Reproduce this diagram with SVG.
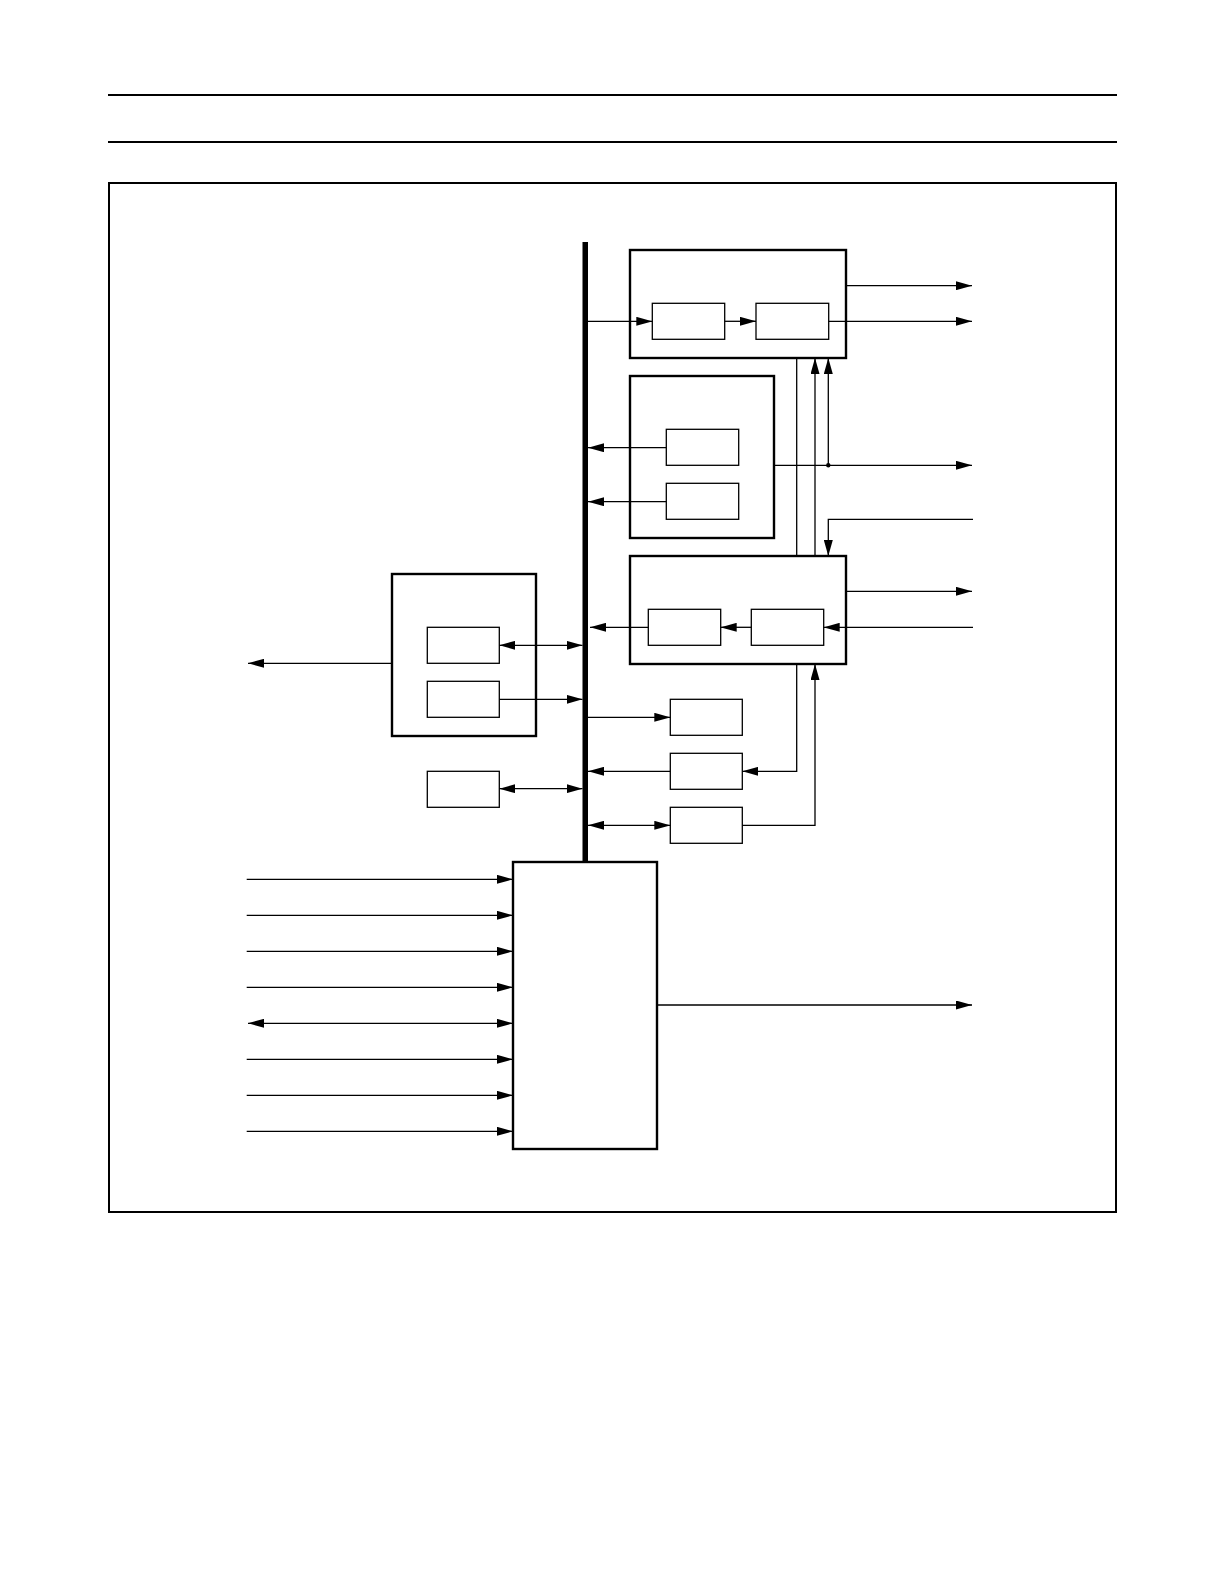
<svg xmlns="http://www.w3.org/2000/svg" width="1224" height="1582" viewBox="0 0 1224 1582">
<style>
.rule{stroke:#000;stroke-width:2;fill:none}
.outer{fill:#fff;stroke:#000;stroke-width:2.4}
.inner{fill:#fff;stroke:#000;stroke-width:1.3}
.c{fill:none;stroke:#000;stroke-width:1.3}
.a{marker-end:url(#ah)}
.b{marker-start:url(#ah);marker-end:url(#ah)}
</style>
<defs>
<marker id="ah" viewBox="0 0 16 9" markerWidth="16" markerHeight="9" refX="16" refY="4.5" markerUnits="userSpaceOnUse" orient="auto-start-reverse">
<path d="M0,0 L16,4.5 L0,9 z" fill="#000"/>
</marker>
</defs>
<rect width="1224" height="1582" fill="#fff"/>
<line class="rule" x1="108" y1="95" x2="1117" y2="95"/>
<line class="rule" x1="108" y1="142" x2="1117" y2="142"/>
<rect class="rule" x="109" y="183" width="1007" height="1029"/>

<g id="bus"><rect x="582.5" y="242" width="5.5" height="620" fill="#000"/></g>

<g id="block1">
<rect class="outer" x="630" y="250" width="216" height="108"/>
<rect id="block1a" class="inner" x="652.3" y="303.3" width="72.4" height="36"/>
<rect id="block1b" class="inner" x="756" y="303.3" width="72.7" height="36"/>
</g>
<g id="block2">
<rect class="outer" x="630" y="376" width="144" height="162"/>
<rect id="block2a" class="inner" x="666.3" y="429.3" width="72.4" height="36"/>
<rect id="block2b" class="inner" x="666.3" y="483.3" width="72.4" height="36"/>
</g>
<g id="block3">
<rect class="outer" x="630" y="556" width="216" height="108"/>
<rect id="block3a" class="inner" x="648.3" y="609.3" width="72.4" height="36"/>
<rect id="block3b" class="inner" x="751.3" y="609.3" width="72.4" height="36"/>
</g>
<g id="block4">
<rect class="outer" x="392" y="574" width="144" height="162"/>
<rect id="block4a" class="inner" x="427.3" y="627.3" width="72" height="36"/>
<rect id="block4b" class="inner" x="427.3" y="681.3" width="72" height="36"/>
</g>
<g id="block5"><rect class="inner" x="427.3" y="771.3" width="72" height="36"/></g>
<g id="block6"><rect class="inner" x="670.3" y="699.3" width="72" height="36"/></g>
<g id="block7"><rect class="inner" x="670.3" y="753.3" width="72" height="36"/></g>
<g id="block8"><rect class="inner" x="670.3" y="807.3" width="72" height="36"/></g>
<g id="block9"><rect class="outer" x="513" y="862" width="144" height="287"/></g>

<g id="connectors">
<path class="c a" d="M588,321.3 H652.3"/>
<path class="c a" d="M724.7,321.3 H756"/>
<path class="c a" d="M846,285.7 H972"/>
<path class="c a" d="M828.7,321.3 H972"/>
<path class="c a" d="M666.3,447.7 H588"/>
<path class="c a" d="M666.3,501.7 H588"/>
<path class="c a" d="M774,465.3 H972"/>
<circle cx="828.3" cy="465.3" r="2.2" fill="#000"/>
<path class="c a" d="M828.3,465.3 V358"/>
<path class="c a" d="M815,556 V358"/>
<path class="c" d="M796.7,358 V556"/>
<path class="c a" d="M973,519.3 H828.3 V556"/>
<path class="c a" d="M846,591.3 H972"/>
<path class="c a" d="M973,627.3 H823.7"/>
<path class="c a" d="M751.3,627.3 H720.7"/>
<path class="c a" d="M648.3,627.3 H590"/>
<path class="c b" d="M499.3,645.3 H582.5"/>
<path class="c a" d="M499.3,699.3 H582.5"/>
<path class="c a" d="M392,663.3 H248"/>
<path class="c a" d="M588,717.3 H670.3"/>
<path class="c a" d="M670.3,771.3 H588"/>
<path class="c a" d="M796.7,664 V771.3 H742.3"/>
<path class="c b" d="M499.3,788.7 H582.5"/>
<path class="c b" d="M588,825.3 H670.3"/>
<path class="c a" d="M742.3,825.3 H815 V664"/>
<path class="c a" d="M246.7,879.3 H513"/>
<path class="c a" d="M246.7,915.3 H513"/>
<path class="c a" d="M246.7,951.3 H513"/>
<path class="c a" d="M246.7,987.3 H513"/>
<path class="c b" d="M248,1023.3 H513"/>
<path class="c a" d="M246.7,1059.3 H513"/>
<path class="c a" d="M246.7,1095.3 H513"/>
<path class="c a" d="M246.7,1131.3 H513"/>
<path class="c a" d="M657,1005 H972"/>
</g>
</svg>
